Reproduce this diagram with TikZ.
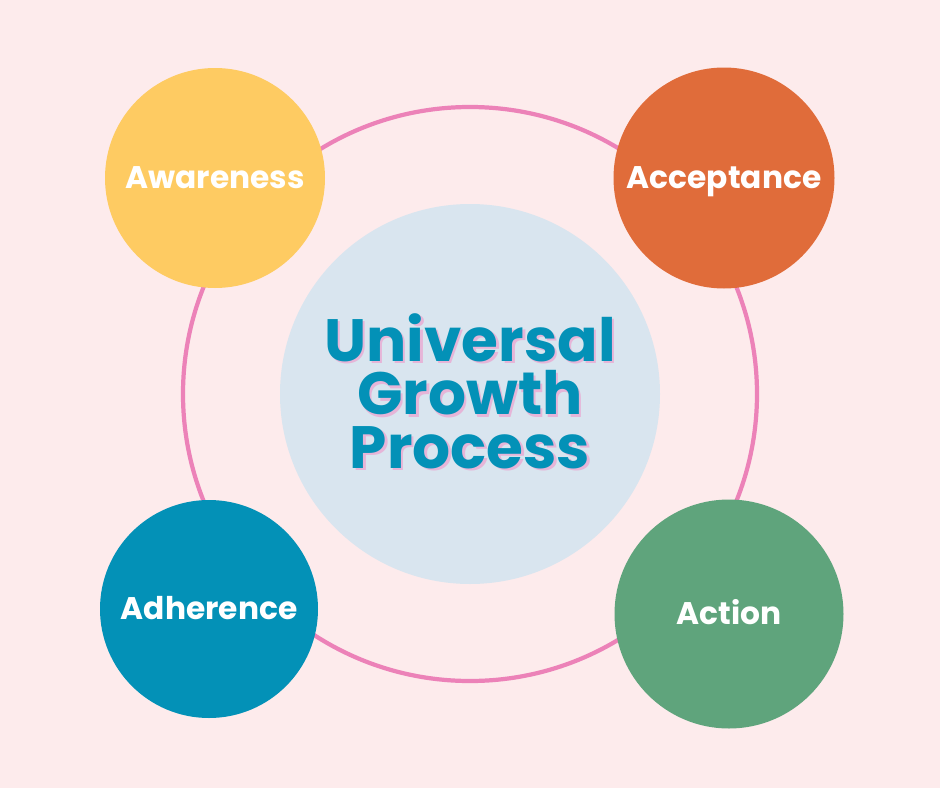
\documentclass[tikz,border=0pt]{standalone}
\usepackage{fontspec}
\setmainfont{Poppins}
\definecolor{fundo}{HTML}{FDEBEC}
\definecolor{anel}{HTML}{EC82B8}
\definecolor{centro}{HTML}{D9E5EF}
\definecolor{amarelo}{HTML}{FECB62}
\definecolor{laranja}{HTML}{E06C3A}
\definecolor{azul}{HTML}{0391B7}
\definecolor{verde}{HTML}{5FA47C}
\definecolor{sombra}{HTML}{E6B5D8}

\begin{document}
\begin{tikzpicture}[x=0.02cm, y=-0.02cm,
    etapa/.style={circle, inner sep=0pt, text=white, text height=1.25em, text depth=0pt,
        font=\fontsize{17.8}{22}\selectfont\bfseries},
    titulotxt/.style={align=center,
        font=\fontsize{34}{30.5}\selectfont\bfseries}]

    % 1. Fundo e moldura da figura
    \fill[fundo] (0,0) rectangle (940,788);
    \useasboundingbox (0,0) rectangle (940,788);

    % 2. Anel rosa que liga as quatro etapas
    \draw[anel, line width=2.4pt] (470,394) circle (287);

    % 3. Círculo central com o título (sombra rosa por baixo)
    \node[circle, fill=centro, minimum size=380*0.02cm] (centro) at (470,394) {};
    \node[titulotxt, text=sombra] (titulosombra) at (472.5,393.5) {Universal\\Growth\\Process};
    \node[titulotxt, text=azul] (titulo) at (470,391) {Universal\\Growth\\Process};

    % 4. As quatro etapas
    \node[etapa, fill=amarelo, minimum size=220*0.02cm] (awareness) at (215,178) {Awareness};
    \node[etapa, fill=laranja, minimum size=221*0.02cm] (acceptance) at (724,178) {Acceptance};
    \node[etapa, fill=azul, minimum size=218*0.02cm] (adherence) at (209,609) {Adherence};
    \node[etapa, fill=verde, minimum size=229*0.02cm] (action) at (729,614) {Action};

\end{tikzpicture}
\end{document}
